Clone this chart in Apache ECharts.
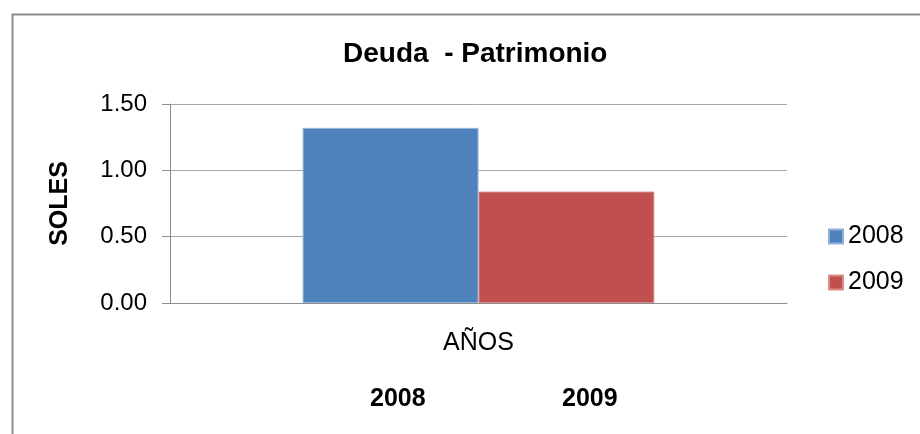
<!DOCTYPE html>
<html>
<head>
<meta charset="utf-8">
<script src="https://cdn.jsdelivr.net/npm/echarts@6/dist/echarts.min.js"></script>
<style>
  html, body { margin: 0; padding: 0; background: #fff; }
  #main { width: 920px; height: 434px; }
</style>
</head>
<body>
<div id="main"></div>
<script>
  // datos del grafico
  var categorias = ['AÑOS'];
  var anios = ['2008', '2009'];
  var valores2008 = [1.32];
  var valores2009 = [0.84];
  var ticksY = [0, 0.5, 1, 1.5];

  var myChart = echarts.init(document.getElementById('main'));

  var fuente = '"Liberation Sans", Arial, sans-serif';

  // textos de años debajo del eje
  var posAnios = [398, 590];
  var textosAnios = anios.map(function (a, i) {
    return {
      type: 'text',
      left: posAnios[i] - 28,
      top: 387,
      style: { text: a, fontSize: 25, fontWeight: 'bold', fontFamily: fuente, fill: '#000' }
    };
  });

  var option = {
    backgroundColor: '#fff',
    title: {
      text: 'Deuda  - Patrimonio',
      left: 338,
      top: 35,
      textStyle: { fontSize: 28, fontWeight: 'bold', fontFamily: fuente, color: '#000' }
    },
    legend: {
      orient: 'vertical',
      left: 823,
      top: 219,
      itemWidth: 14,
      itemHeight: 14,
      itemGap: 21,
      icon: 'rect',
      data: anios,
      textStyle: { fontSize: 25, fontFamily: fuente, color: '#000' }
    },
    grid: { left: 170, right: 133, top: 104, bottom: 131 },
    xAxis: {
      type: 'category',
      data: categorias,
      axisLine: { lineStyle: { color: '#8c8c8c', width: 1 } },
      axisTick: { show: false },
      axisLabel: { margin: 28, fontSize: 25, fontFamily: fuente, color: '#000' }
    },
    yAxis: {
      type: 'value',
      min: ticksY[0],
      max: ticksY[ticksY.length - 1],
      interval: 0.5,
      name: 'SOLES',
      nameLocation: 'middle',
      nameGap: 97,
      nameTextStyle: { fontSize: 25, fontWeight: 'bold', fontFamily: fuente, color: '#000' },
      axisLine: { show: true, lineStyle: { color: '#8c8c8c', width: 1 } },
      axisTick: { show: true, length: 8, lineStyle: { color: '#8c8c8c' } },
      axisLabel: {
        margin: 23,
        fontSize: 24,
        fontFamily: fuente,
        color: '#000',
        formatter: function (v) { return v.toFixed(2); }
      },
      splitLine: { lineStyle: { color: '#a6a6a6', width: 1 } }
    },
    series: [
      {
        name: anios[0],
        type: 'bar',
        data: valores2008,
        barGap: '0%',
        barCategoryGap: '43%',
        itemStyle: { color: '#4f81bd', borderColor: '#8fb0d9', borderWidth: 1 }
      },
      {
        name: anios[1],
        type: 'bar',
        data: valores2009,
        itemStyle: { color: '#c0504d', borderColor: '#d98c8a', borderWidth: 1 }
      }
    ],
    graphic: [
      {
        type: 'rect',
        left: 10,
        top: 12,
        shape: { width: 930, height: 440 },
        style: { fill: 'none', stroke: '#8c8c8c', lineWidth: 2 },
        silent: true
      }
    ].concat(textosAnios)
  };

  myChart.setOption(option);
</script>
</body>
</html>
